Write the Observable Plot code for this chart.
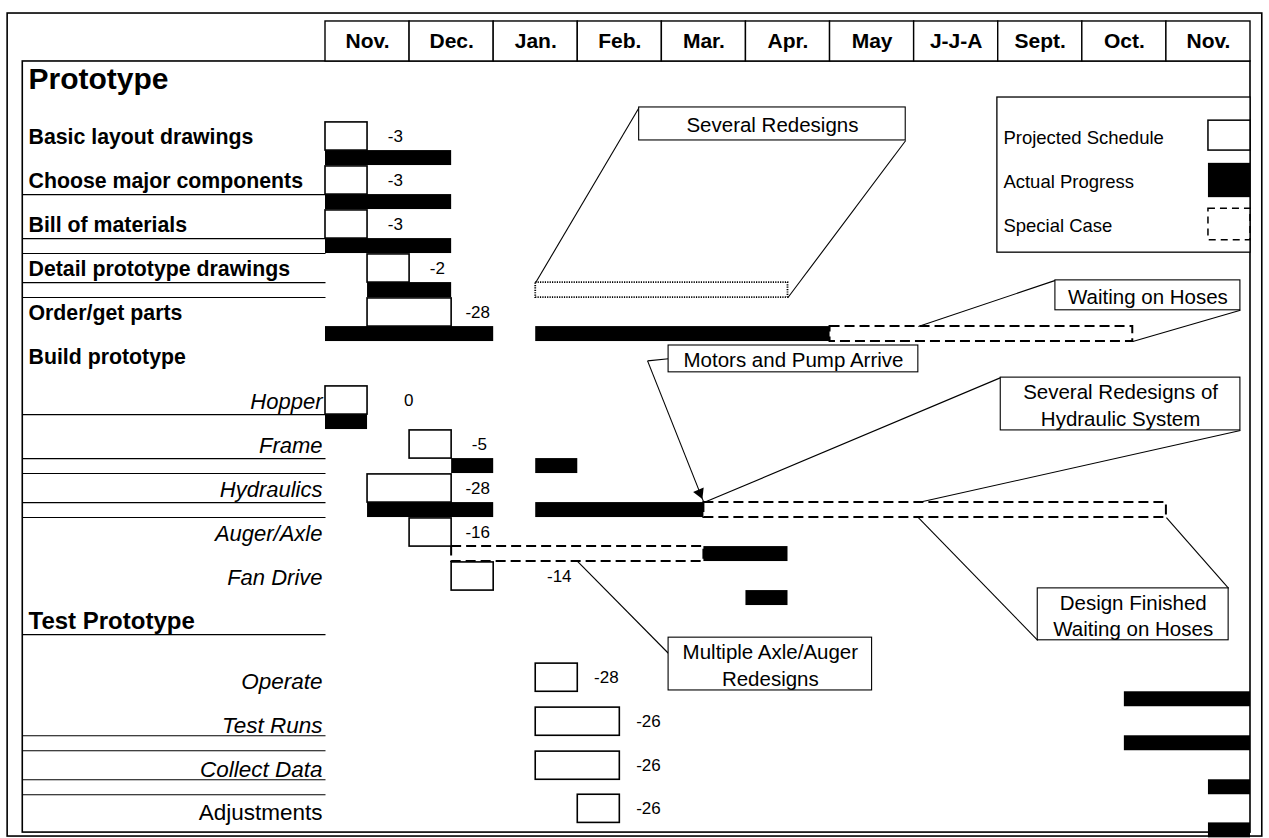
<!DOCTYPE html>
<html>
<head>
<meta charset="utf-8">
<script src="https://cdn.jsdelivr.net/npm/d3@7"></script>
<script src="https://cdn.jsdelivr.net/npm/@observablehq/plot@0.6"></script>
<style>
  body { margin: 0; background: #fff; }
  #chart svg { display: block; }
</style>
</head>
<body>
<div id="chart"></div>
<script>
// ---------- DATA (x in months from the first Nov., y in row numbers) ----------
const months = ["Nov.", "Dec.", "Jan.", "Feb.", "Mar.", "Apr.", "May", "J-J-A", "Sept.", "Oct.", "Nov."];

const taskNames = ["Prototype", "Basic layout drawings", "Choose major components", "Bill of materials",
  "Detail prototype drawings", "Order/get parts", "Build prototype", "Hopper", "Frame", "Hydraulics",
  "Auger/Axle", "Fan Drive", "Test Prototype", "Operate", "Test Runs", "Collect Data", "Adjustments"];
const taskRows = [0, 1, 2, 3, 4, 5, 6, 7, 8, 9, 10, 11, 12, 13.3, 14.3, 15.3, 16.28];
const taskLevels = ["section", "task", "task", "task", "task", "task", "task", "part", "part", "part",
  "part", "part", "phase", "step", "step", "step", "stepUpright"];

const projTask = ["Basic layout drawings", "Choose major components", "Bill of materials", "Detail prototype drawings",
  "Order/get parts", "Hopper", "Frame", "Hydraulics", "Auger/Axle", "Fan Drive", "Operate", "Test Runs",
  "Collect Data", "Adjustments"];
const projStart = [0, 0, 0, 0.5, 0.5, 0, 1, 0.5, 1, 1.5, 2.5, 2.5, 2.5, 3];
const projEnd   = [0.5, 0.5, 0.5, 1, 1.5, 0.5, 1.5, 1.5, 1.5, 2, 3, 3.5, 3.5, 3.5];
const slipDays  = ["-3", "-3", "-3", "-2", "-28", "0", "-5", "-28", "-16", "-14", "-28", "-26", "-26", "-26"];
const slipLabelAt = [0.83, 0.83, 0.83, 1.33, 1.81, 0.99, 1.83, 1.81, 1.81, 2.78, 3.34, 3.84, 3.84, 3.84];

const actualTask = ["Basic layout drawings", "Choose major components", "Bill of materials", "Detail prototype drawings",
  "Order/get parts", "Order/get parts", "Hopper", "Frame", "Frame", "Hydraulics", "Hydraulics", "Auger/Axle",
  "Fan Drive", "Operate", "Test Runs", "Collect Data", "Adjustments"];
const actualStart = [0, 0, 0, 0.5, 0, 2.5, 0, 1.5, 2.5, 0.5, 2.5, 4.5, 5, 9.5, 9.5, 10.5, 10.5];
const actualEnd   = [1.5, 1.5, 1.5, 1.5, 2, 6, 0.5, 2, 3, 2, 4.5, 5.5, 5.5, 11, 11, 11, 11];

const specialTask  = ["Detail prototype drawings", "Order/get parts", "Hydraulics", "Auger/Axle"];
const specialStart = [2.5, 6, 4.5, 1.5];
const specialEnd   = [5.5, 9.6, 10, 4.5];
const specialKind  = ["dotted", "dashed", "dashed", "dashed"];

const legendLabels = ["Projected Schedule", "Actual Progress", "Special Case"];

// label-column separators: which task rows carry a rule at the top / bottom of the progress bar
const ruleTask = ["Choose major components", "Bill of materials", "Bill of materials", "Detail prototype drawings",
  "Detail prototype drawings", "Hopper", "Frame", "Frame", "Hydraulics", "Hydraulics", "Test Prototype",
  "Test Runs", "Test Runs", "Collect Data", "Collect Data"];
const ruleEdge = ["top", "top", "bottom", "top", "bottom", "top", "top", "bottom", "top", "bottom", "top",
  "top", "bottom", "top", "bottom"];

// callouts (box in months / rows: x1, x2, y1, y2) and their leader lines (x1, y1, x2, y2)
const calloutText = ["Several Redesigns", "Waiting on Hoses", "Motors and Pump Arrive",
  "Several Redesigns of\nHydraulic System", "Design Finished\nWaiting on Hoses", "Multiple Axle/Auger\nRedesigns"];
const calloutBox = [[3.73, 6.9, 0.34, 1.09], [8.68, 10.88, 4.27, 4.95], [4.08, 7.05, 5.75, 6.36],
  [8.03, 10.88, 6.48, 7.68], [8.47, 10.74, 11.27, 12.45], [4.08, 6.5, 12.39, 13.59]];
const calloutLeaders = [
  [[3.73, 0.34, 2.5, 4.32], [6.9, 1.09, 5.5, 4.66]],
  [[8.68, 4.27, 7.05, 5.32], [10.88, 4.95, 9.6, 5.66]],
  [[4.08, 6.05, 3.83, 6.1]],
  [[8.03, 6.48, 4.5, 9.32], [10.88, 7.68, 7.05, 9.32]],
  [[7.05, 9.66, 8.47, 12.45], [10, 9.66, 10.74, 11.27]],
  [[3.0, 10.66, 4.08, 12.75]]
];
const arrowFrom = [3.83, 6.1];
const arrowTo = [4.5, 9.32];

// ---------- BUILD ----------
const rowOf = new Map(taskNames.map((n, i) => [n, taskRows[i]]));
const tasks = taskNames.map((name, i) => ({name, row: taskRows[i], level: taskLevels[i]}));
const proj = projTask.map((t, i) => ({row: rowOf.get(t), s: projStart[i], e: projEnd[i], slip: slipDays[i], at: slipLabelAt[i]}));
const actual = actualTask.map((t, i) => ({row: rowOf.get(t), s: actualStart[i], e: actualEnd[i]}));
const special = specialTask.map((t, i) => ({row: rowOf.get(t), s: specialStart[i], e: specialEnd[i], kind: specialKind[i]}));
const rules = ruleTask.map((t, i) => ({y: rowOf.get(t) + (ruleEdge[i] === "top" ? 0.32 : 0.66)}));
const boxes = calloutText.map((text, i) => ({text, x1: calloutBox[i][0], x2: calloutBox[i][1], y1: calloutBox[i][2], y2: calloutBox[i][3]}));
const leaders = calloutLeaders.flat().map(([x1, y1, x2, y2]) => ({x1, y1, x2, y2}));
const legend = legendLabels.map((label, i) => ({label, row: i + 1, kind: i}));

// frame geometry (months / rows)
const FR = {outer: [-3.78, 11.14, -1.795, 16.91], inner: [-3.6, 11, -0.705, 16.82], head: [-1.614, -0.705],
  legend: [7.99, 11, 0.114, 3.64]};

const F = "Liberation Sans, Arial, Helvetica, sans-serif";
const one = [0];
const c = (v) => () => v;

const chart = Plot.plot({
  width: 1269,
  height: 838,
  margin: 0,
  style: {fontFamily: F, background: "#fff", color: "#000"},
  x: {type: "linear", domain: [0, 11], range: [325, 1250], axis: null},
  y: {type: "linear", domain: [0, 16], range: [92, 796], axis: null},
  marks: [
    // frames
    Plot.rect(one, {x1: c(FR.outer[0]), x2: c(FR.outer[1]), y1: c(FR.outer[2]), y2: c(FR.outer[3]), fill: "white", stroke: "black", strokeWidth: 1.6}),
    Plot.rect(one, {x1: c(FR.inner[0]), x2: c(FR.inner[1]), y1: c(FR.inner[2]), y2: c(FR.inner[3]), fill: "none", stroke: "black", strokeWidth: 1.6}),
    // month header
    Plot.rect(months, {x1: (d, i) => i, x2: (d, i) => i + 1, y1: c(FR.head[0]), y2: c(FR.head[1]), fill: "white", stroke: "black", strokeWidth: 1.4}),
    Plot.text(months, {x: (d, i) => i + 0.5, y: c((FR.head[0] + FR.head[1]) / 2), text: d => d, fontWeight: "bold", fontSize: 21}),
    // label column rules
    Plot.link(rules, {x1: c(FR.inner[0]), x2: c(0), y1: "y", y2: "y", stroke: "black", strokeWidth: 1.1}),
    // legend frame
    Plot.rect(one, {x1: c(FR.legend[0]), x2: c(FR.legend[1]), y1: c(FR.legend[2]), y2: c(FR.legend[3]), fill: "white", stroke: "black", strokeWidth: 1.3}),
    // leaders
    Plot.link(leaders, {x1: "x1", y1: "y1", x2: "x2", y2: "y2", stroke: "black", strokeWidth: 1.1}),
    Plot.link(one, {x1: c(arrowFrom[0]), y1: c(arrowFrom[1]), x2: c(arrowTo[0]), y2: c(arrowTo[1]), stroke: "black", strokeWidth: 1.1}),
    Plot.dot(one, {x: c(arrowTo[0] - 0.05), y: c(arrowTo[1] - 0.22), symbol: "triangle2", r: 5.5, fill: "black", rotate: 157}),
    // actual progress bars
    Plot.rect(actual, {x1: "s", x2: "e", y1: d => d.row + 0.32, y2: d => d.row + 0.66, fill: "black"}),
    // special cases
    Plot.rect(special.filter(d => d.kind === "dashed"), {x1: "s", x2: "e", y1: d => d.row + 0.32, y2: d => d.row + 0.66, fill: "none", stroke: "black", strokeWidth: 2, strokeDasharray: "10,5"}),
    Plot.rect(special.filter(d => d.kind === "dotted"), {x1: "s", x2: "e", y1: d => d.row + 0.32, y2: d => d.row + 0.66, fill: "none", stroke: "black", strokeWidth: 1.8, strokeDasharray: "1.2,1.2"}),
    // projected boxes
    Plot.rect(proj, {x1: "s", x2: "e", y1: d => d.row - 0.32, y2: d => d.row + 0.32, fill: "white", stroke: "black", strokeWidth: 1.6}),
    Plot.text(proj, {x: "at", y: "row", text: "slip", fontSize: 17}),
    // task labels
    Plot.text(tasks.filter(d => d.level === "section"), {y: "row", text: "name", frameAnchor: "left", dx: 28, dy: -13, textAnchor: "start", fontWeight: "bold", fontSize: 30}),
    Plot.text(tasks.filter(d => d.level === "task"), {y: "row", text: "name", frameAnchor: "left", dx: 28, dy: 1, textAnchor: "start", fontWeight: "bold", fontSize: 21.3}),
    Plot.text(tasks.filter(d => d.level === "phase"), {y: "row", text: "name", frameAnchor: "left", dx: 28, dy: 1, textAnchor: "start", fontWeight: "bold", fontSize: 24}),
    Plot.text(tasks.filter(d => d.level === "part"), {x: c(0), y: "row", text: "name", dx: -3, dy: 1, textAnchor: "end", fontStyle: "italic", fontSize: 22}),
    Plot.text(tasks.filter(d => d.level === "step"), {x: c(0), y: "row", text: "name", dx: -3, dy: 4, textAnchor: "end", fontStyle: "italic", fontSize: 22.5}),
    Plot.text(tasks.filter(d => d.level === "stepUpright"), {x: c(0), y: "row", text: "name", dx: -3, dy: 4, textAnchor: "end", fontSize: 22.5}),
    // legend entries
    Plot.text(legend, {x: c(FR.legend[0]), y: "row", text: "label", dx: 6, dy: 2, textAnchor: "start", fontSize: 18.5}),
    Plot.rect(legend.filter(d => d.kind === 0), {x1: c(10.5), x2: c(11), y1: d => d.row - 0.36, y2: d => d.row + 0.32, fill: "white", stroke: "black", strokeWidth: 1.5}),
    Plot.rect(legend.filter(d => d.kind === 1), {x1: c(10.5), x2: c(11), y1: d => d.row - 0.39, y2: d => d.row + 0.39, fill: "black"}),
    Plot.rect(legend.filter(d => d.kind === 2), {x1: c(10.5), x2: c(11), y1: d => d.row - 0.36, y2: d => d.row + 0.36, fill: "none", stroke: "black", strokeWidth: 1.5, strokeDasharray: "7,5"}),
    // callout boxes
    Plot.rect(boxes, {x1: "x1", x2: "x2", y1: "y1", y2: "y2", fill: "white", stroke: "black", strokeWidth: 1.1}),
    Plot.text(boxes, {x: d => (d.x1 + d.x2) / 2, y: d => (d.y1 + d.y2) / 2, text: "text", fontSize: 20.5, lineHeight: 1.3})
  ]
});
document.getElementById("chart").appendChild(chart);
</script>
</body>
</html>
